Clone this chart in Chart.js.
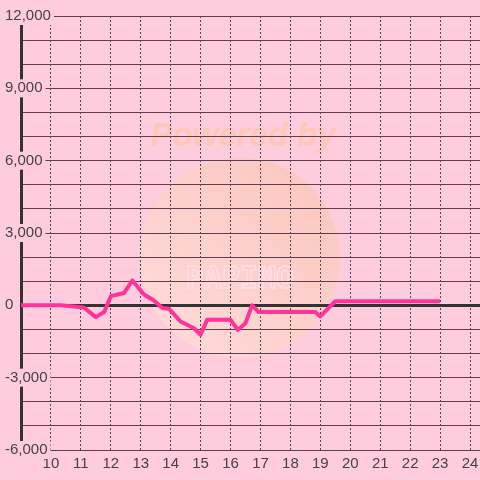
<!DOCTYPE html>
<html>
<head>
<meta charset="utf-8">
<script src="https://cdn.jsdelivr.net/npm/chart.js@4"></script>
<style>
  html, body { margin: 0; padding: 0; background: #ffccdd; }
  #wrap { width: 480px; height: 480px; }
</style>
</head>
<body>
<div id="wrap"><canvas id="balanceChart" width="480" height="480"></canvas></div>
<script>
const ctx = document.getElementById('balanceChart').getContext('2d')

// hour of day / value
const hours = [9, 10.33, 11.1, 11.5, 11.78, 12.0, 12.44, 12.72, 13.11, 13.44, 13.72, 13.94, 14.33, 14.78, 15.0, 15.22, 16.0, 16.24, 16.5, 16.72, 16.94, 18.83, 19.0, 19.5, 23.0]
const values = [0, 0, -90, -490, -280, 380, 510, 1030, 450, 200, -110, -140, -670, -950, -1220, -600, -600, -1020, -740, 0, -280, -280, -460, 170, 170]

const hourTicks = [10, 11, 12, 13, 14, 15, 16, 17, 18, 19, 20, 21, 22, 23, 24]
const valueTicks = [-6000, -5000, -4000, -3000, -2000, -1000, 0, 1000, 2000, 3000, 4000, 5000, 6000, 7000, 8000, 9000, 10000, 11000, 12000]
const labelEvery = 3000

const BG = '#ffccdd'
const GRID = '#5c4050'
const TEXT = '#4a4046'

// background + faint watermark
const backdropPlugin = {
    id: 'backdrop',
    beforeDraw(chart) {
        const c = chart.ctx
        c.save()
        c.fillStyle = BG
        c.fillRect(0, 0, chart.width, chart.height)

        const g = c.createLinearGradient(160, 340, 330, 170)
        g.addColorStop(0, 'rgba(255,222,214,0.75)')
        g.addColorStop(1, 'rgba(250,196,180,0.75)')
        c.fillStyle = g
        c.beginPath()
        c.arc(240, 258, 100, 0, Math.PI * 2)
        c.fill()

        c.font = 'italic bold 33px "Liberation Sans", Arial, sans-serif'
        c.fillStyle = 'rgba(255,198,170,0.75)'
        c.textAlign = 'center'
        c.textBaseline = 'alphabetic'
        c.fillText('Powered by', 243, 146)

        c.font = 'bold 30px "DejaVu Sans Mono", monospace'
        c.strokeStyle = 'rgba(255,225,238,0.8)'
        c.lineWidth = 1.5
        c.strokeText('PAPIMO', 240, 288)
        c.restore()
    }
}

const chart = new Chart(ctx, {
    type: 'line',
    data: {
        datasets: [{
            data: hours.map((h, i) => ({ x: h, y: values[i] })),
            borderColor: '#ff339a',
            borderWidth: 4,
            borderJoinStyle: 'round',
            pointRadius: 0,
            tension: 0,
            fill: false
        }]
    },
    options: {
        responsive: false,
        animation: false,
        layout: { padding: { left: 4, top: 16, right: 0, bottom: 2 } },
        plugins: {
            legend: { display: false },
            tooltip: { enabled: false }
        },
        scales: {
            x: {
                type: 'linear',
                min: 9,
                max: 9 + 460 / 30,
                afterBuildTicks: s => { s.ticks = hourTicks.map(v => ({ value: v })) },
                afterFit: s => { s.paddingLeft = 0; s.paddingRight = 0 },
                grid: {
                    color: GRID,
                    lineWidth: 1,
                    drawTicks: false
                },
                border: { display: false, dash: [2, 2] },
                ticks: {
                    color: TEXT,
                    padding: 5,
                    maxRotation: 0,
                    autoSkip: false,
                    font: { family: '"Liberation Sans", Arial, sans-serif', size: 15 }
                }
            },
            y: {
                min: -6000,
                max: 12000,
                afterBuildTicks: s => { s.ticks = valueTicks.map(v => ({ value: v })) },
                afterFit: s => { s.width = 17; s.paddingTop = 0; s.paddingBottom = 0 },
                grid: {
                    color: c => c.tick && c.tick.value === 0 ? '#333333' : GRID,
                    lineWidth: c => c.tick && c.tick.value === 0 ? 3 : 1,
                    drawTicks: false
                },
                border: { display: true, color: '#333333', width: 3 },
                ticks: {
                    color: TEXT,
                    mirror: true,
                    crossAlign: 'near',
                    padding: -16,
                    autoSkip: false,
                    font: { family: '"Liberation Sans", Arial, sans-serif', size: 15 },
                    showLabelBackdrop: c => c.tick && c.tick.value % labelEvery === 0,
                    backdropColor: BG,
                    backdropPadding: { top: 0, bottom: 0, left: 2, right: 3 },
                    callback: v => v % labelEvery === 0 ? v.toLocaleString('en-US') : ''
                }
            }
        }
    },
    plugins: [backdropPlugin]
})
</script>
</body>
</html>
